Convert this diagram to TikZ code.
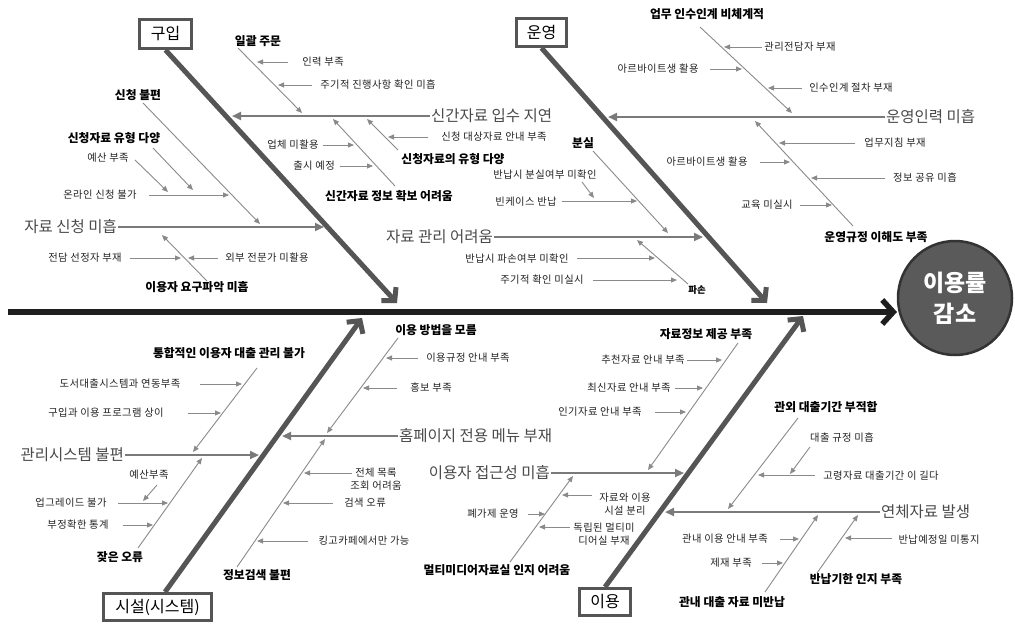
\documentclass[tikz,border=0pt]{standalone}
\usepackage{fontspec}
\setmainfont{Noto Sans CJK KR}
\usetikzlibrary{arrows.meta}
\definecolor{spinec}{HTML}{1E1E1E}
\definecolor{bonec}{HTML}{555555}
\definecolor{subc}{HTML}{7A7A7A}
\definecolor{thinc}{HTML}{8A8A8A}
\definecolor{bigc}{HTML}{4A4A4A}
\definecolor{smallc}{HTML}{222222}
\definecolor{circf}{HTML}{5A5A5A}
\definecolor{circd}{HTML}{333333}
\tikzset{
  spine/.style={line width=5.5pt,color=spinec,-{Straight Barb[length=11pt,width=24pt]}},
  mainbone/.style={line width=5pt,color=bonec,-{Straight Barb[length=9pt,width=20pt]}},
  subbone/.style={line width=2.2pt,color=subc,-{Triangle[length=9pt,width=8pt]}},
  thinarr/.style={line width=0.9pt,color=thinc,-{Triangle[length=6pt,width=5pt]}},
  cat/.style={draw=bonec,line width=3pt,font=\fontsize{16}{19}\selectfont,text=black,inner sep=2pt},
  big/.style={font=\fontsize{15.5}{18}\selectfont,text=bigc,inner sep=1pt},
  mid/.style={font=\fontsize{11.8}{14}\selectfont\bfseries,text=black,inner sep=1pt},
  small/.style={font=\fontsize{10.3}{12.5}\selectfont\addfontfeature{LetterSpace=4},text=smallc,inner sep=1pt,align=center},
  goal/.style={circle,fill=circf,draw=circd,line width=2.5pt,minimum size=114pt,inner sep=0pt,
    text=white,align=center,font=\fontsize{23}{31}\selectfont\bfseries},
}
\begin{document}
\begin{tikzpicture}[x=1pt,y=-1pt]
\useasboundingbox (0,0) rectangle (1015,624);
\fill[white] (0,0) rectangle (1015,624);

% goal and spine
\node[goal] (goal) at (955,298) {이용률\\감소};
\coordinate (sp0) at (8,312);
\coordinate (sp1) at (897,312);
\draw[spine] (sp0) -- (sp1);

% categories
\node[cat,minimum width=52pt,minimum height=29pt] (gu) at (165.5,34) {구입};
\node[cat,minimum width=50pt,minimum height=28pt] (uy) at (541.5,32.5) {운영};
\node[cat,minimum width=108pt,minimum height=27pt] (ss) at (157.5,607) {시설(시스템)};
\node[cat,minimum width=51pt,minimum height=27pt] (iy) at (605,602) {이용};

\coordinate (gbE) at (397,303);
\coordinate (ubE) at (767,303);
\coordinate (ssS) at (165,592);
\coordinate (sbE) at (362,318);
\coordinate (ybE) at (803,316);
\draw[mainbone] (gu.south) -- (gbE);
\draw[mainbone] (uy.south) -- (ubE);
\draw[mainbone] (ssS) -- (sbE);
\draw[mainbone] (iy.north) -- (ybE);

% sub bones
\node[big,anchor=west] (L1) at (430,116) {신간자료 입수 지연}; \coordinate (L1e) at (232,116); \draw[subbone] (L1.west) -- (L1e);
\node[big,anchor=east] (L2) at (118,227) {자료 신청 미흡}; \coordinate (L2e) at (324,227); \draw[subbone] (L2.east) -- (L2e);
\node[big,anchor=west] (L3) at (885,117) {운영인력 미흡}; \coordinate (L3e) at (608,117); \draw[subbone] (L3.west) -- (L3e);
\node[big,anchor=east] (L4) at (494,237) {자료 관리 어려움}; \coordinate (L4e) at (703,237); \draw[subbone] (L4.east) -- (L4e);
\node[big,anchor=east] (L5) at (125,455) {관리시스템 불편}; \coordinate (L5e) at (259,455); \draw[subbone] (L5.east) -- (L5e);
\node[big,anchor=west] (L6) at (398,436) {홈페이지 전용 메뉴 부재}; \coordinate (L6e) at (282,436); \draw[subbone] (L6.west) -- (L6e);
\node[big,anchor=east] (L7) at (551,473) {이용자 접근성 미흡}; \coordinate (L7e) at (684,473); \draw[subbone] (L7.east) -- (L7e);
\node[big,anchor=west] (L8) at (880,512) {연체자료 발생}; \coordinate (L8e) at (665,512); \draw[subbone] (L8.west) -- (L8e);

% mid-level causes
\node[mid] (m1) at (258,41) {일괄 주문}; \coordinate (m1a) at (238,48); \coordinate (m1b) at (302,113); \draw[thinarr] (m1a) -- (m1b);
\node[mid] (m2) at (389,196) {신간자료 정보 확보 어려움}; \coordinate (m2a) at (395,186); \coordinate (m2b) at (333,119); \draw[thinarr] (m2a) -- (m2b);
\node[mid] (m3) at (453,159) {신청자료의 유형 다양}; \coordinate (m3a) at (398,150); \coordinate (m3b) at (367,119); \draw[thinarr] (m3a) -- (m3b);
\node[mid] (m4) at (138,95) {신청 불편}; \coordinate (m4a) at (143,103); \coordinate (m4b) at (260,224); \draw[thinarr] (m4a) -- (m4b);
\node[mid] (m5) at (114,138) {신청자료 유형 다양}; \coordinate (m5a) at (153,148); \coordinate (m5b) at (193,190); \draw[thinarr] (m5a) -- (m5b);
\node[mid] (m6) at (197,287) {이용자 요구파악 미흡}; \coordinate (m6a) at (207,281); \coordinate (m6b) at (162,235); \draw[thinarr] (m6a) -- (m6b);
\node[mid] (m7) at (707,14) {업무 인수인계 비체계적}; \coordinate (m7a) at (700,27); \coordinate (m7b) at (792,113); \draw[thinarr] (m7a) -- (m7b);
\node[mid] (m8) at (876,237) {운영규정 이해도 부족}; \coordinate (m8a) at (853,226); \coordinate (m8b) at (755,121); \draw[thinarr] (m8a) -- (m8b);
\node[mid] (m9) at (583,143) {분실}; \coordinate (m9a) at (593,151); \coordinate (m9b) at (668,233); \draw[thinarr] (m9a) -- (m9b);
\node[mid,font=\fontsize{9.5}{11}\selectfont\bfseries] (m10) at (697,290) {파손}; \coordinate (m10a) at (688,284); \coordinate (m10b) at (637,240); \draw[thinarr] (m10a) -- (m10b);
\node[mid] (m11) at (229,353) {통합적인 이용자 대출 관리 불가}; \coordinate (m11a) at (257,368); \coordinate (m11b) at (193,452); \draw[thinarr] (m11a) -- (m11b);
\node[mid] (m12) at (120,557) {잦은 오류}; \coordinate (m12a) at (138,548); \coordinate (m12b) at (202,458); \draw[thinarr] (m12a) -- (m12b);
\node[mid] (m13) at (436,330) {이용 방법을 모름}; \coordinate (m13a) at (398,338); \coordinate (m13b) at (327,433); \draw[thinarr] (m13a) -- (m13b);
\node[mid] (m14) at (257,575) {정보검색 불편}; \coordinate (m14a) at (237,567); \coordinate (m14b) at (325,439); \draw[thinarr] (m14a) -- (m14b);
\node[mid] (m15) at (706,334) {자료정보 제공 부족}; \coordinate (m15a) at (738,343); \coordinate (m15b) at (648,470); \draw[thinarr] (m15a) -- (m15b);
\node[mid] (m16) at (497,570) {멀티미디어자료실 인지 어려움}; \coordinate (m16a) at (510,562); \coordinate (m16b) at (573,476); \draw[thinarr] (m16a) -- (m16b);
\node[mid] (m17) at (826,407) {관외 대출기간 부적합}; \coordinate (m17a) at (798,418); \coordinate (m17b) at (728,509); \draw[thinarr] (m17a) -- (m17b);
\node[mid] (m18) at (732,602) {관내 대출 자료 미반납}; \coordinate (m18a) at (765,592); \coordinate (m18b) at (818,515); \draw[thinarr] (m18a) -- (m18b);
\node[mid] (m19) at (856,579) {반납기한 인지 부족}; \coordinate (m19a) at (817,573); \coordinate (m19b) at (858,515); \draw[thinarr] (m19a) -- (m19b);

% small causes
\node[small] (s1) at (323,62) {인력 부족}; \coordinate (s1a) at (288,62); \coordinate (s1b) at (257,62); \draw[thinarr] (s1a) -- (s1b);
\node[small] (s2) at (378,85) {주기적 진행사항 확인 미흡}; \coordinate (s2a) at (312,85); \coordinate (s2b) at (278,85); \draw[thinarr] (s2a) -- (s2b);
\node[small] (s3) at (293,145) {업체 미활용}; \coordinate (s3a) at (323,145); \coordinate (s3b) at (354,145); \draw[thinarr] (s3a) -- (s3b);
\node[small] (s4) at (314,166) {출시 예정}; \coordinate (s4a) at (340,166); \coordinate (s4b) at (373,166); \draw[thinarr] (s4a) -- (s4b);
\node[small] (s5) at (494,137) {신청 대상자료 안내 부족}; \coordinate (s5a) at (428,137); \coordinate (s5b) at (388,137); \draw[thinarr] (s5a) -- (s5b);
\node[small] (s6) at (108,158) {예산 부족}; \coordinate (s6a) at (135,160); \coordinate (s6b) at (168,192); \draw[thinarr] (s6a) -- (s6b);
\node[small] (s7) at (100,195) {온라인 신청 불가}; \coordinate (s7a) at (149,195); \coordinate (s7b) at (229,195); \draw[thinarr] (s7a) -- (s7b);
\node[small] (s8) at (85,258) {전담 선정자 부재}; \coordinate (s8a) at (130,258); \coordinate (s8b) at (181,258); \draw[thinarr] (s8a) -- (s8b);
\node[small] (s9) at (267,258) {외부 전문가 미활용}; \coordinate (s9a) at (218,258); \coordinate (s9b) at (188,258); \draw[thinarr] (s9a) -- (s9b);
\node[small] (s10) at (800,47) {관리전담자 부재}; \coordinate (s10a) at (762,47); \coordinate (s10b) at (724,47); \draw[thinarr] (s10a) -- (s10b);
\node[small] (s11) at (658,69) {아르바이트생 활용}; \coordinate (s11a) at (710,69); \coordinate (s11b) at (742,69); \draw[thinarr] (s11a) -- (s11b);
\node[small] (s12) at (851,88) {인수인계 절차 부재}; \coordinate (s12a) at (802,88); \coordinate (s12b) at (768,88); \draw[thinarr] (s12a) -- (s12b);
\node[small] (s13) at (895,143) {업무지침 부재}; \coordinate (s13a) at (855,143); \coordinate (s13b) at (779,143); \draw[thinarr] (s13a) -- (s13b);
\node[small] (s14) at (707,162) {아르바이트생 활용}; \coordinate (s14a) at (760,162); \coordinate (s14b) at (790,162); \draw[thinarr] (s14a) -- (s14b);
\node[small] (s15) at (925,178) {정보 공유 미흡}; \coordinate (s15a) at (885,178); \coordinate (s15b) at (811,178); \draw[thinarr] (s15a) -- (s15b);
\node[small] (s16) at (767,205) {교육 미실시}; \coordinate (s16a) at (800,205); \coordinate (s16b) at (832,205); \draw[thinarr] (s16a) -- (s16b);
\node[small] (s17) at (545,175) {반납시 분실여부 미확인}; \coordinate (s17a) at (582,182); \coordinate (s17b) at (594,198); \draw[thinarr] (s17a) -- (s17b);
\node[small] (s18) at (526,202) {빈케이스 반납}; \coordinate (s18a) at (562,201); \coordinate (s18b) at (637,201); \draw[thinarr] (s18a) -- (s18b);
\node[small] (s19) at (517,259) {반납시 파손여부 미확인}; \coordinate (s19a) at (577,258); \coordinate (s19b) at (655,258); \draw[thinarr] (s19a) -- (s19b);
\node[small] (s20) at (542,280) {주기적 확인 미실시}; \coordinate (s20a) at (593,280); \coordinate (s20b) at (677,280); \draw[thinarr] (s20a) -- (s20b);
\node[small] (s21) at (120,384) {도서대출시스템과 연동부족}; \coordinate (s21a) at (200,384); \coordinate (s21b) at (242,384); \draw[thinarr] (s21a) -- (s21b);
\node[small] (s22) at (106,413) {구입과 이용 프로그램 상이}; \coordinate (s22a) at (188,413); \coordinate (s22b) at (221,413); \draw[thinarr] (s22a) -- (s22b);
\node[small] (s23) at (149,475) {예산부족}; \coordinate (s23a) at (157,485); \coordinate (s23b) at (143,501); \draw[thinarr] (s23a) -- (s23b);
\node[small] (s24) at (71,503) {업그레이드 불가}; \coordinate (s24a) at (118,503); \coordinate (s24b) at (168,503); \draw[thinarr] (s24a) -- (s24b);
\node[small] (s25) at (78,525) {부정확한 통계}; \coordinate (s25a) at (123,525); \coordinate (s25b) at (153,525); \draw[thinarr] (s25a) -- (s25b);
\node[small] (s26) at (468,358) {이용규정 안내 부족}; \coordinate (s26a) at (418,358); \coordinate (s26b) at (386,358); \draw[thinarr] (s26a) -- (s26b);
\node[small] (s27) at (431,388) {홍보 부족}; \coordinate (s27a) at (397,388); \coordinate (s27b) at (363,388); \draw[thinarr] (s27a) -- (s27b);
\node[small] (s28) at (376,479) {전체 목록\\조회 어려움}; \coordinate (s28a) at (352,473); \coordinate (s28b) at (304,473); \draw[thinarr] (s28a) -- (s28b);
\node[small] (s29) at (365,503) {검색 오류}; \coordinate (s29a) at (333,503); \coordinate (s29b) at (283,503); \draw[thinarr] (s29a) -- (s29b);
\node[small] (s30) at (364,541) {킹고카페에서만 가능}; \coordinate (s30a) at (308,541); \coordinate (s30b) at (257,541); \draw[thinarr] (s30a) -- (s30b);
\node[small] (s31) at (643,360) {추천자료 안내 부족}; \coordinate (s31a) at (687,360); \coordinate (s31b) at (722,360); \draw[thinarr] (s31a) -- (s31b);
\node[small] (s32) at (629,388) {최신자료 안내 부족}; \coordinate (s32a) at (675,388); \coordinate (s32b) at (703,388); \draw[thinarr] (s32a) -- (s32b);
\node[small] (s33) at (600,412) {인기자료 안내 부족}; \coordinate (s33a) at (655,412); \coordinate (s33b) at (686,412); \draw[thinarr] (s33a) -- (s33b);
\node[small] (s34) at (493,514) {폐가제 운영}; \coordinate (s34a) at (528,514); \coordinate (s34b) at (545,514); \draw[thinarr] (s34a) -- (s34b);
\node[small] (s35) at (625,504) {자료와 이용\\시설 분리}; \coordinate (s35a) at (592,495); \coordinate (s35b) at (562,495); \draw[thinarr] (s35a) -- (s35b);
\node[small] (s36) at (604,534) {독립된 멀티미\\디어실 부재}; \coordinate (s36a) at (570,527); \coordinate (s36b) at (539,527); \draw[thinarr] (s36a) -- (s36b);
\node[small] (s37) at (842,438) {대출 규정 미흡}; \coordinate (s37a) at (810,447); \coordinate (s37b) at (790,474); \draw[thinarr] (s37a) -- (s37b);
\node[small] (s38) at (881,476) {고령자료 대출기간 이 길다}; \coordinate (s38a) at (815,475); \coordinate (s38b) at (758,475); \draw[thinarr] (s38a) -- (s38b);
\node[small] (s39) at (725,539) {관내 이용 안내 부족}; \coordinate (s39a) at (780,539); \coordinate (s39b) at (799,539); \draw[thinarr] (s39a) -- (s39b);
\node[small] (s40) at (731,563) {제재 부족}; \coordinate (s40a) at (762,563); \coordinate (s40b) at (783,563); \draw[thinarr] (s40a) -- (s40b);
\node[small] (s41) at (939,540) {반납예정일 미통지}; \coordinate (s41a) at (892,538); \coordinate (s41b) at (845,538); \draw[thinarr] (s41a) -- (s41b);
\end{tikzpicture}
\end{document}
